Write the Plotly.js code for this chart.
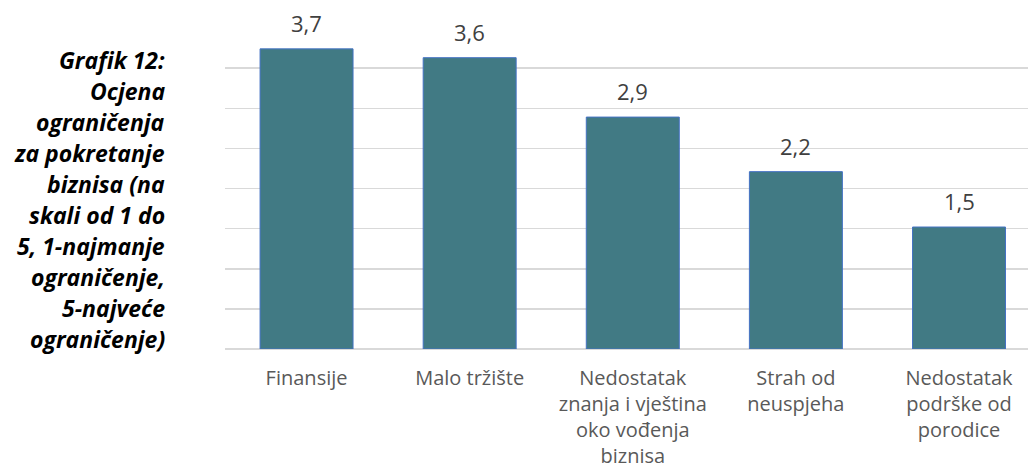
<!DOCTYPE html>
<html>
<head>
<meta charset="utf-8">
<script src="https://cdn.plot.ly/plotly-3.0.1.min.js"></script>
<style>html,body{margin:0;padding:0;background:#fff;}#chart{width:1028px;height:476px;}</style>
</head>
<body>
<div id="chart"></div>
<script>
const categories = ["Finansije", "Malo tržište", "Nedostatak<br>znanja i vještina<br>oko vođenja<br>biznisa", "Strah od<br>neuspjeha", "Nedostatak<br>podrške od<br>porodice"];
const values = [3.74, 3.63, 2.89, 2.21, 1.52];
const titleLines = ["Grafik 12:", "Ocjena", "ograničenja", "za pokretanje", "biznisa (na", "skali od 1 do", "5, 1-najmanje", "ograničenje,", "5-najveće", "ograničenje)"];

const xIdx = categories.map((c, i) => i);

const trace = {
  type: 'bar',
  x: xIdx,
  y: values,
  width: 0.57,
  marker: {color: '#417A84', line: {color: '#4472C4', width: 1}},
  hoverinfo: 'none'
};

const annotations = [];
values.forEach((v, i) => {
  annotations.push({
    x: i, y: v, xref: 'x', yref: 'y',
    text: v.toFixed(1).replace('.', ','),
    showarrow: false, yanchor: 'bottom', yshift: 9,
    font: {family: 'Open Sans, sans-serif', size: 22, color: '#404040'}
  });
});
const plotTop = 28, plotH = 321;
titleLines.forEach((t, i) => {
  const yc = 60 + i * 31;
  annotations.push({
    xref: 'paper', yref: 'paper',
    x: (167 - 225) / 803, y: (plotTop + plotH - yc) / plotH,
    xanchor: 'right', yanchor: 'middle',
    text: '<b><i>' + t + '</i></b>', showarrow: false,
    font: {family: 'Open Sans, sans-serif', size: 23, color: '#000000'}
  });
});

const layout = {
  width: 1028, height: 476,
  margin: {l: 225, r: 0, t: 28, b: 127},
  paper_bgcolor: '#ffffff', plot_bgcolor: '#ffffff',
  showlegend: false,
  xaxis: {
    tickmode: 'array', tickvals: xIdx, ticktext: categories,
    range: [-0.5, 4.423], showgrid: false, zeroline: false, showline: false,
    ticks: '', ticklabelstandoff: 15, automargin: false,
    tickfont: {family: 'Open Sans, sans-serif', size: 20, color: '#595959'},
    fixedrange: true
  },
  yaxis: {
    range: [0, 4], dtick: 0.5, showgrid: true, gridcolor: '#d9d9d9', gridwidth: 1.5,
    zeroline: true, zerolinecolor: '#d9d9d9', zerolinewidth: 1.5,
    showticklabels: false, ticks: '', fixedrange: true, automargin: false
  },
  annotations: annotations
};

Plotly.newPlot('chart', [trace], layout, {displayModeBar: false, staticPlot: true});
</script>
</body>
</html>
